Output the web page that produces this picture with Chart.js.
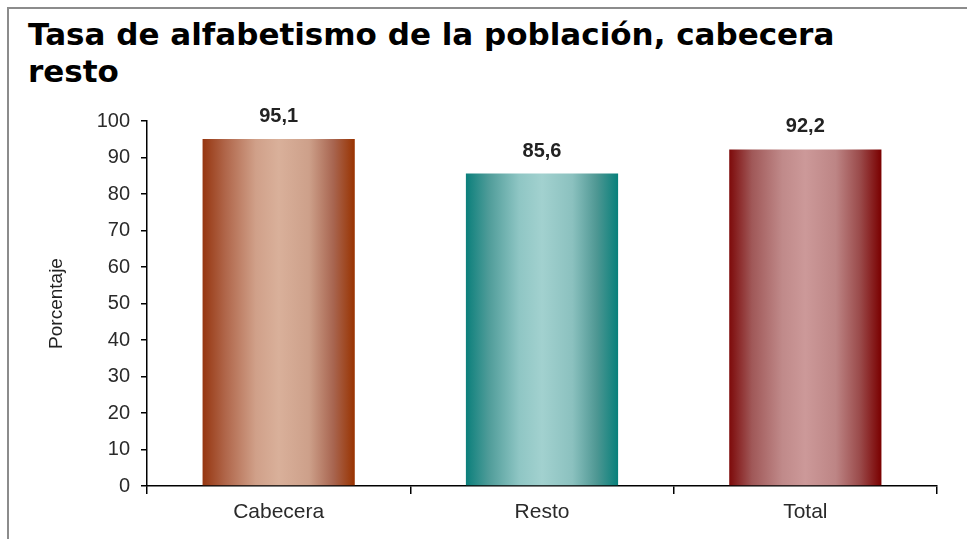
<!DOCTYPE html>
<html>
<head>
<meta charset="utf-8">
<script src="https://cdn.jsdelivr.net/npm/chart.js@4/dist/chart.umd.min.js"></script>
<style>
  html, body { margin: 0; padding: 0; background: #fff; overflow: hidden; }
  #wrap { position: relative; width: 967px; height: 539px; }
  #frame {
    position: absolute; left: 7px; top: 7px; width: 1000px; height: 600px;
    border-left: 2px solid #8c8c8c; border-top: 2px solid #8c8c8c;
  }
  #title {
    position: absolute; left: 28px; top: 16px;
    font: bold 31px "DejaVu Sans", sans-serif; line-height: 37px; color: #000;
    white-space: nowrap;
  }
  canvas { position: absolute; left: 0; top: 0; }
</style>
</head>
<body>
<div id="wrap">
  <div id="frame"></div>
  <div id="title">Tasa de alfabetismo de la población, cabecera<br>resto</div>
  <canvas id="chart" width="967" height="539"></canvas>
</div>
<script>
const categories = ["Cabecera", "Resto", "Total"];
const values = [95.1, 85.6, 92.2];
const yTicks = [0, 10, 20, 30, 40, 50, 60, 70, 80, 90, 100];

// colour stops across each bar, edge -> centre -> edge
const barStops = [
  ["#963610", "#b0664a", "#d0a089", "#d9b09a", "#cda08a", "#a86550", "#993300"],
  ["#0b7f7b", "#4f9c99", "#8fc6c4", "#a2d1cf", "#8bc1bf", "#4e9793", "#07807b"],
  ["#7d0a0a", "#a05858", "#c08a8a", "#cc9999", "#bd8585", "#9a4a4a", "#7a0000"],
];
const stopPos = [0, 0.15, 0.35, 0.5, 0.7, 0.86, 1];

const barFill = (ctx) => {
  const chart = ctx.chart;
  const xs = chart.scales.x;
  const i = ctx.dataIndex;
  if (!xs || !chart.chartArea) return barStops[i][0];
  const cx = xs.getPixelForValue(i);
  const w = (xs.right - xs.left) / categories.length * 0.578;
  const g = chart.ctx.createLinearGradient(cx - w / 2, 0, cx + w / 2, 0);
  stopPos.forEach((p, k) => g.addColorStop(p, barStops[i][k]));
  return g;
};

const valueLabels = {
  id: "valueLabels",
  afterDatasetsDraw(chart) {
    const ctx = chart.ctx;
    const meta = chart.getDatasetMeta(0);
    ctx.save();
    ctx.font = "bold 20px 'Liberation Sans', Arial, sans-serif";
    ctx.fillStyle = "#222";
    ctx.textAlign = "center";
    ctx.textBaseline = "alphabetic";
    meta.data.forEach((bar, i) => {
      ctx.fillText(values[i].toFixed(1).replace(".", ","), bar.x, bar.y - 17);
    });
    ctx.restore();
  },
};

const tickFont = { family: "'Liberation Sans', Arial, sans-serif", size: 20 };

new Chart(document.getElementById("chart").getContext("2d"), {
  type: "bar",
  data: {
    labels: categories,
    datasets: [
      {
        data: values,
        backgroundColor: barFill,
        borderWidth: 0,
        categoryPercentage: 1,
        barPercentage: 0.578,
      },
    ],
  },
  options: {
    responsive: false,
    animation: false,
    layout: { padding: { left: 20, right: 30, top: 121, bottom: 0 } },
    plugins: {
      legend: { display: false },
      tooltip: { enabled: false },
    },
    scales: {
      x: {
        afterFit: (scale) => { scale.height = 53; },
        grid: {
          offset: true,
          drawOnChartArea: false,
          drawTicks: true,
          tickLength: 8,
          color: "#000",
          lineWidth: 1.5,
        },
        border: { display: true, color: "#000", width: 1.5 },
        ticks: { color: "#2a2a2a", font: { family: tickFont.family, size: 21 }, padding: 6 },
      },
      y: {
        min: 0,
        max: 100,
        afterFit: (scale) => { scale.width = 127; },
        afterBuildTicks: (scale) => { scale.ticks = yTicks.map((v) => ({ value: v })); },
        grid: {
          drawOnChartArea: false,
          drawTicks: true,
          tickLength: 6,
          color: "#000",
          lineWidth: 1.5,
        },
        border: { display: true, color: "#000", width: 1.5 },
        ticks: { color: "#2a2a2a", font: tickFont, padding: 11 },
        title: {
          display: true,
          text: "Porcentaje",
          color: "#222",
          font: { family: "'Liberation Sans', Arial, sans-serif", size: 19 },
          padding: { top: 25, bottom: 0 },
        },
      },
    },
  },
  plugins: [valueLabels],
});
</script>
</body>
</html>
